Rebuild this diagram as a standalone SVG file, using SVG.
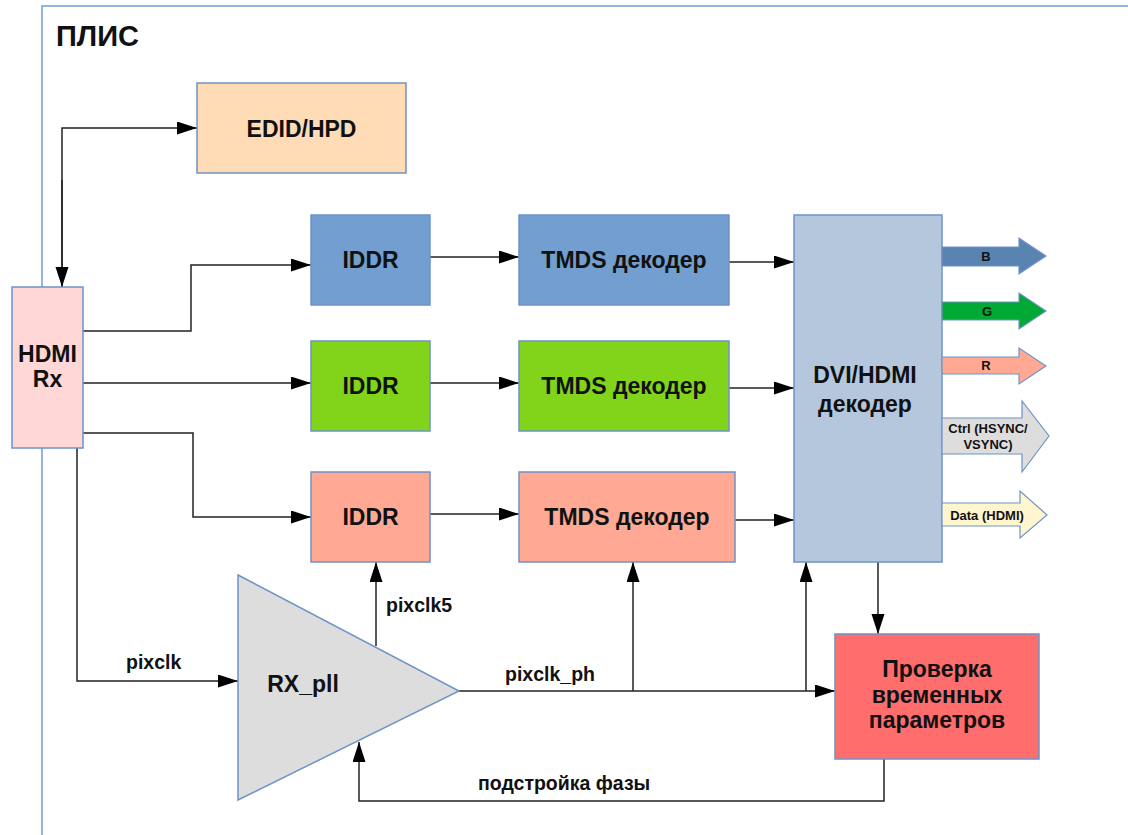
<svg xmlns="http://www.w3.org/2000/svg" width="1128" height="835" viewBox="0 0 1128 835">
<defs>
<style>
text{font-family:"Liberation Sans",Arial,sans-serif;font-weight:bold;fill:#111;}
.box{stroke:#6f93c8;stroke-width:1.5;}
.t22{font-size:23px;text-anchor:middle;}
.lbl{font-size:19.5px;}
.sm{font-size:13px;text-anchor:middle;}
.c{fill:none;stroke:#222;stroke-width:1.5;}
.barrow{stroke:#6f93c8;stroke-width:1.2;}
</style>
<marker id="ah" markerUnits="userSpaceOnUse" markerWidth="20" markerHeight="14" refX="20" refY="6.5" orient="auto">
<path d="M0,0 L20,6.5 L0,13 z" fill="#000"/>
</marker>
</defs>
<rect width="1128" height="835" fill="#fff"/>
<g id="frame">
<path d="M42,835 V6 H1128" fill="none" stroke="#729fcf" stroke-width="1.5"/>
<text x="56" y="46" style="font-size:29px">ПЛИС</text>
</g>
<g id="connectors">
<path class="c" d="M62,287 V128 H197" marker-end="url(#ah)"/>
<path class="c" d="M62,180 V287" marker-end="url(#ah)"/>
<path class="c" d="M83,331 H191 V265 H311" marker-end="url(#ah)"/>
<path class="c" d="M83,383 H311" marker-end="url(#ah)"/>
<path class="c" d="M83,433 H193 V517 H311" marker-end="url(#ah)"/>
<path class="c" d="M430,257 H519" marker-end="url(#ah)"/>
<path class="c" d="M430,383 H519" marker-end="url(#ah)"/>
<path class="c" d="M430,514 H519" marker-end="url(#ah)"/>
<path class="c" d="M729,262 H794" marker-end="url(#ah)"/>
<path class="c" d="M729,388 H794" marker-end="url(#ah)"/>
<path class="c" d="M735,520 H794" marker-end="url(#ah)"/>
<path class="c" d="M77,448 V681 H238" marker-end="url(#ah)"/>
<path class="c" d="M376,646 V562" marker-end="url(#ah)"/>
<path class="c" d="M459,691 H835" marker-end="url(#ah)"/>
<path class="c" d="M633,691 V562" marker-end="url(#ah)"/>
<path class="c" d="M806,691 V562" marker-end="url(#ah)"/>
<path class="c" d="M878,562 V634" marker-end="url(#ah)"/>
<path class="c" d="M884,759 V801 H359 V742" marker-end="url(#ah)"/>
<text class="lbl" x="126" y="669">pixclk</text>
<text class="lbl" x="386" y="612">pixclk5</text>
<text class="lbl" x="505" y="681">pixclk_ph</text>
<text class="lbl" x="478" y="790">подстройка фазы</text>
</g>
<g id="edid">
<rect class="box" x="197" y="83" width="209" height="90" fill="#ffdbb6"/>
<text class="t22" x="301.5" y="137">EDID/HPD</text>
</g>
<g id="hdmi_rx">
<rect class="box" x="12" y="287" width="71" height="161" fill="#ffd7d7"/>
<text class="t22" x="47.5" y="362">HDMI</text>
<text class="t22" x="47.5" y="387">Rx</text>
</g>
<g id="iddr1">
<rect class="box" x="311" y="215" width="119" height="90" fill="#729fcf"/>
<text class="t22" x="370.5" y="268">IDDR</text>
</g>
<g id="iddr2">
<rect class="box" x="311" y="341" width="119" height="90" fill="#81d41a"/>
<text class="t22" x="370.5" y="394">IDDR</text>
</g>
<g id="iddr3">
<rect class="box" x="311" y="472" width="119" height="90" fill="#ffa994"/>
<text class="t22" x="370.5" y="525">IDDR</text>
</g>
<g id="tmds1">
<rect class="box" x="519" y="215" width="210" height="90" fill="#729fcf"/>
<text class="t22" x="624" y="268">TMDS декодер</text>
</g>
<g id="tmds2">
<rect class="box" x="519" y="341" width="210" height="90" fill="#81d41a"/>
<text class="t22" x="624" y="394">TMDS декодер</text>
</g>
<g id="tmds3">
<rect class="box" x="519" y="472" width="216" height="90" fill="#ffa994"/>
<text class="t22" x="627" y="525">TMDS декодер</text>
</g>
<g id="dvi">
<rect class="box" x="794" y="215" width="148" height="347" fill="#b4c7dc"/>
<text class="t22" x="865" y="383">DVI/HDMI</text>
<text class="t22" x="865" y="412">декодер</text>
</g>
<g id="check">
<rect class="box" x="835" y="634" width="204" height="125" fill="#ff6d6d"/>
<text class="t22" x="937" y="677">Проверка</text>
<text class="t22" x="937" y="703">временных</text>
<text class="t22" x="937" y="728">параметров</text>
</g>
<g id="rx_pll">
<path class="box" d="M238,575 L459,691 L238,800 Z" fill="#dddddd"/>
<text class="t22" x="303" y="692">RX_pll</text>
</g>
<g id="out_b">
<path class="barrow" d="M942,247 H1019 V238 L1046,256 L1019,274 V266 H942 Z" fill="#5983b0"/>
<text class="sm" x="986" y="261">B</text>
</g>
<g id="out_g">
<path class="barrow" d="M942,302 H1019 V293 L1046,311 L1019,329 V320 H942 Z" fill="#00a933"/>
<text class="sm" x="987" y="316">G</text>
</g>
<g id="out_r">
<path class="barrow" d="M942,357 H1019 V348 L1046,366 L1019,384 V374 H942 Z" fill="#ffa994"/>
<text class="sm" x="986" y="370">R</text>
</g>
<g id="out_ctrl">
<path class="barrow" d="M942,418 H1022 V401 L1049,436 L1022,472 V454 H942 Z" fill="#dddddd"/>
<text class="sm" x="988" y="433">Ctrl (HSYNC/</text>
<text class="sm" x="988" y="449">VSYNC)</text>
</g>
<g id="out_data">
<path class="barrow" d="M942,503 H1020 V491 L1047,515 L1020,538 V526 H942 Z" fill="#fff5ce"/>
<text class="sm" x="987" y="520">Data (HDMI)</text>
</g>
</svg>
